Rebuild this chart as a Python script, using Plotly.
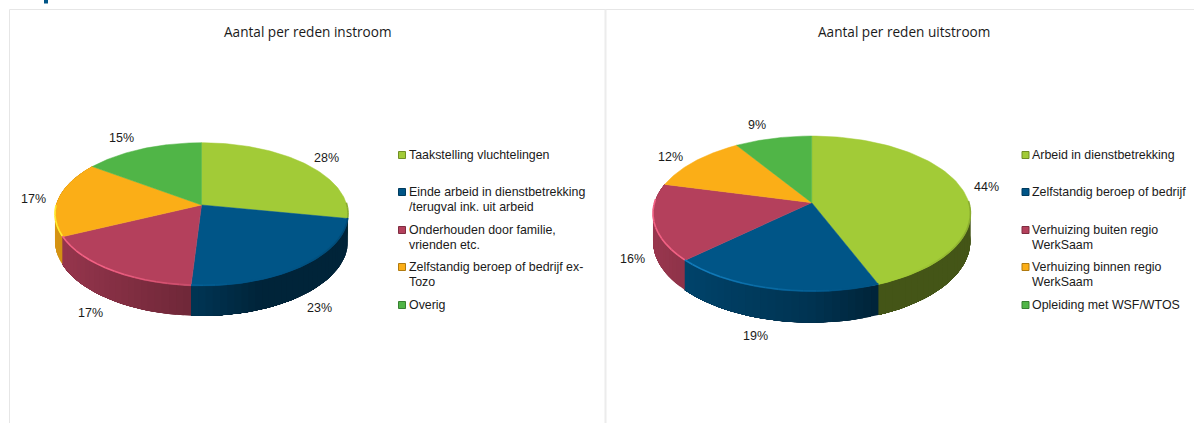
import numpy as np
import plotly.graph_objects as go

# Chart contents
instroom_title = "Aantal per reden instroom"
instroom_labels = [
    "Taakstelling vluchtelingen",
    "Einde arbeid in dienstbetrekking<br>/terugval ink. uit arbeid",
    "Onderhouden door familie,<br>vrienden etc.",
    "Zelfstandig beroep of bedrijf ex-<br>Tozo",
    "Overig",
]
instroom_values = [28, 23, 17, 17, 15]

uitstroom_title = "Aantal per reden uitstroom"
uitstroom_labels = [
    "Arbeid in dienstbetrekking",
    "Zelfstandig beroep of bedrijf",
    "Verhuizing buiten regio<br>WerkSaam",
    "Verhuizing binnen regio<br>WerkSaam",
    "Opleiding met WSF/WTOS",
]
uitstroom_values = [44, 19, 16, 12, 9]

slice_colors = ["#a2cb37", "#005587", "#b4405c", "#fbae17", "#50b547"]
TEXT = "#1a1a1a"
RULE = "#e6e6e6"


def shade(hex_color, f, add=0.0):
    """Scale a colour by f and add a small constant to each channel."""
    rgb = np.array([int(hex_color[i:i + 2], 16) for i in (1, 3, 5)], float) * f + add
    return "rgb({},{},{})".format(*np.clip(rgb, 0, 255).round().astype(int))


def project(theta, geo):
    """Perspective view of the disc; theta runs clockwise from twelve o'clock."""
    u, v = np.sin(theta), np.cos(theta)
    w = 1 + geo["k"] * v
    return geo["cx"] + geo["a"] * u / w, geo["cy"] - geo["b"] * v / w, w


def wall_factor(s):
    """Brightness of the side wall at horizontal position s (-1 left, 1 right)."""
    return 0.6 - 0.26 * s if s < 0 else max(0.42, 0.6 - 0.5 * s)


def add_pie(fig, values, geo):
    edges = np.radians(np.cumsum([0] + values) * 3.6)

    # Side wall: each strip runs on to the end of its slice and is painted over
    # by the next one, so the gradient has no seams
    for i, color in enumerate(slice_colors):
        steps = max(2, int(np.degrees(edges[i + 1] - edges[i]) / 2.5))
        th = np.linspace(edges[i], edges[i + 1], steps + 1)
        for t0, t1 in zip(th[:-1], th[1:]):
            if np.cos((t0 + t1) / 2) > 0.05:
                continue
            arc = np.linspace(t0, edges[i + 1], max(2, int((edges[i + 1] - t0) / 0.04)))
            x, y, w = project(arc, geo)
            yb = y + geo["depth"] / w
            c = shade(color, wall_factor(np.sin((t0 + t1) / 2)))
            fig.add_trace(go.Scatter(
                x=np.r_[x, x[::-1], x[0]],
                y=np.r_[y, yb[::-1], y[0]],
                mode="lines", fill="toself", fillcolor=c,
                line=dict(width=0), hoverinfo="skip", showlegend=False,
            ))

    # Top face
    for i, color in enumerate(slice_colors):
        th = np.linspace(edges[i], edges[i + 1], 90)
        x, y, _ = project(th, geo)
        fig.add_trace(go.Scatter(
            x=np.r_[geo["cx"], x, geo["cx"]], y=np.r_[geo["cy"], y, geo["cy"]],
            mode="lines", fill="toself", fillcolor=color,
            line=dict(color=color, width=0.5), hoverinfo="skip", showlegend=False,
        ))

    # Bevel along the front rim: saturated highlight on the left, slight shadow on the right
    for i, color in enumerate(slice_colors):
        steps = max(2, int(np.degrees(edges[i + 1] - edges[i]) / 4))
        th = np.linspace(edges[i], edges[i + 1], steps + 1)
        for t0, t1 in zip(th[:-1], th[1:]):
            mid = (t0 + t1) / 2
            if np.cos(mid) > 0.0:
                continue
            x, y, _ = project(np.array([t0, t1]), geo)
            s = np.sin(mid)
            if s < 0.5:
                g = float(np.clip((0.2 - s) / 0.8, 0, 1))
                c = shade(color, 1 + 0.25 * g, 18 * g)
            else:
                c = shade(color, 1 - 0.3 * (s - 0.5))
            fig.add_trace(go.Scatter(
                x=x, y=y - 0.7, mode="lines",
                line=dict(color=c, width=1.6),
                hoverinfo="skip", showlegend=False,
            ))


left_geo = dict(cx=201.5, cy=205, a=145.3, b=70.4, k=0.13, depth=26.1)
right_geo = dict(cx=811.7, cy=202.7, a=157.1, b=76.2, k=0.143, depth=26.6)

fig = go.Figure()
add_pie(fig, instroom_values, left_geo)
add_pie(fig, uitstroom_values, right_geo)

annotations = []


def text(x, y, s, size=12, family="Liberation Sans", anchor="center"):
    annotations.append(dict(
        x=x, y=y, xref="x", yref="y", text=s, showarrow=False,
        xanchor=anchor, yanchor="middle", font=dict(family=family, size=size, color=TEXT),
    ))


# Titles
text(307, 31, instroom_title, size=13.6, family="Open Sans")
text(903.5, 31, uitstroom_title, size=13.6, family="Open Sans")

# Percentage labels
left_pct_pos = [(326.5, 158), (319, 307.5), (90.5, 312.5), (33, 199), (121, 137.5)]
right_pct_pos = [(986, 187), (755, 336), (632.5, 258.5), (670, 156.5), (756.5, 125)]
for vals, pos in ((instroom_values, left_pct_pos), (uitstroom_values, right_pct_pos)):
    for v, (px, py) in zip(vals, pos):
        text(px, py, f"{v}%", size=12.5)

# Legends: one swatch per slice, wrapped labels set line by line
swatch_y = [155, 192, 230, 267, 305]
LINE_STEP = 15
for labels, sx, tx in ((instroom_labels, 402, 407), (uitstroom_labels, 1025.5, 1030)):
    for label, sy, color in zip(labels, swatch_y, slice_colors):
        for n, part in enumerate(label.split("<br>")):
            text(tx, sy + n * LINE_STEP, part, size=12.4, anchor="left")
        fig.add_trace(go.Scatter(
            x=[sx], y=[sy], mode="markers",
            marker=dict(symbol="square", size=7, color=color, line=dict(color=shade(color, 0.7), width=1)),
            hoverinfo="skip", showlegend=False,
        ))

shapes = [
    dict(type="line", xref="x", yref="y", x0=9.5, x1=1194, y0=9.5, y1=9.5, line=dict(color=RULE, width=1)),
    dict(type="line", xref="x", yref="y", x0=9.5, x1=9.5, y0=9.5, y1=423, line=dict(color=RULE, width=1)),
    dict(type="line", xref="x", yref="y", x0=605.5, x1=605.5, y0=9.5, y1=423, line=dict(color="#ececec", width=2)),
    dict(type="rect", xref="x", yref="y", x0=44, x1=48, y0=0, y1=3.5, fillcolor="#005587", line=dict(width=0)),
]

fig.update_layout(
    width=1194, height=423, margin=dict(l=0, r=0, t=0, b=0),
    paper_bgcolor="white", plot_bgcolor="white", showlegend=False,
    xaxis=dict(range=[0, 1194], visible=False, fixedrange=True),
    yaxis=dict(range=[423, 0], visible=False, fixedrange=True),
    annotations=annotations, shapes=shapes,
)
fig.write_html("out.html", config=dict(displayModeBar=False))
